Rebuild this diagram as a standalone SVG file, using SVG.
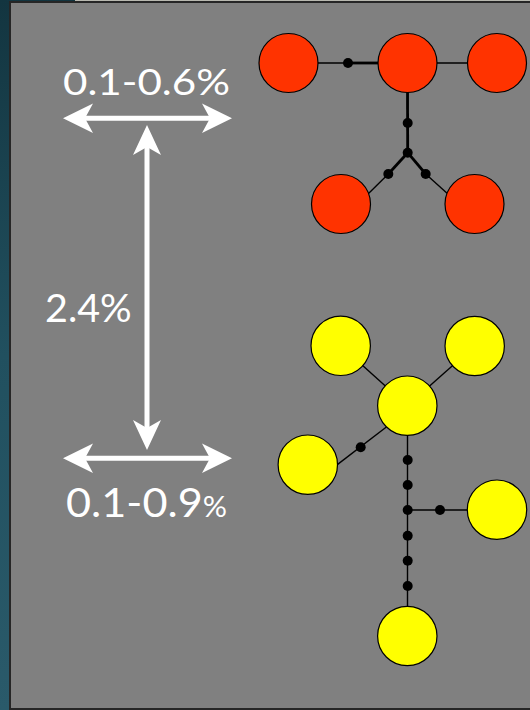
<svg xmlns="http://www.w3.org/2000/svg" width="530" height="710" viewBox="0 0 530 710">
  <defs>
    <linearGradient id="teal" x1="0" y1="0" x2="0" y2="1">
      <stop offset="0" stop-color="#133540"/>
      <stop offset="0.5" stop-color="#21505f"/>
      <stop offset="1" stop-color="#2a5a6a"/>
    </linearGradient>
  </defs>
  <style>
    .thin { stroke: #000; stroke-width: 1.4; fill: none; }
    .thick { stroke: #000; stroke-width: 2.8; fill: none; }
    .red { fill: #ff3300; stroke: #000; stroke-width: 1.2; }
    .yel { fill: #ffff00; stroke: #000; stroke-width: 1.2; }
    .dot { fill: #000; }
    .shaft { stroke: #fff; stroke-width: 5; fill: none; }
    .head { fill: #fff; }
    .lbl { font-family: Lato, "Open Sans", "Liberation Sans", sans-serif; fill: #fff; }
  </style>
  <rect x="0" y="0" width="530" height="710" fill="url(#teal)"/>
  <rect x="75" y="0" width="455" height="1.5" fill="#b8b8b0"/>
  <rect x="10" y="2" width="521" height="707" fill="#808080" stroke="#262626" stroke-width="2"/>

  <g id="connectors">
    <line class="thin" x1="288.5" y1="63" x2="348" y2="63"/>
    <line class="thick" x1="348" y1="63" x2="380" y2="63"/>
    <line class="thin" x1="407.5" y1="63" x2="497" y2="63"/>
    <line class="thick" x1="407.5" y1="90" x2="407.7" y2="152.7"/>
    <line class="thick" x1="407.7" y1="152.7" x2="388.3" y2="174"/>
    <line class="thick" x1="407.7" y1="152.7" x2="425.7" y2="174"/>
    <line class="thin" x1="388.3" y1="174" x2="366" y2="196"/>
    <line class="thin" x1="425.7" y1="174" x2="449" y2="195"/>

    <line class="thin" x1="340.7" y1="345.8" x2="407.3" y2="405.7"/>
    <line class="thin" x1="474.7" y1="346" x2="407.3" y2="405.7"/>
    <line class="thin" x1="336" y1="465.6" x2="388" y2="425.7"/>
    <line class="thin" x1="407.5" y1="430" x2="407.5" y2="610"/>
    <line class="thin" x1="407.5" y1="510" x2="470" y2="510"/>

    <circle class="dot" cx="348" cy="63" r="5"/>
    <circle class="dot" cx="407.7" cy="123" r="5"/>
    <circle class="dot" cx="407.7" cy="152.7" r="5"/>
    <circle class="dot" cx="388.3" cy="174" r="5"/>
    <circle class="dot" cx="425.7" cy="174" r="5"/>

    <circle class="dot" cx="360.7" cy="447.3" r="5"/>
    <circle class="dot" cx="407.7" cy="460" r="5"/>
    <circle class="dot" cx="407.7" cy="485" r="5"/>
    <circle class="dot" cx="407.7" cy="510" r="5"/>
    <circle class="dot" cx="407.7" cy="535.7" r="5"/>
    <circle class="dot" cx="407.7" cy="560.7" r="5"/>
    <circle class="dot" cx="407.7" cy="586" r="5"/>
    <circle class="dot" cx="440" cy="510" r="5"/>
  </g>

  <g id="red-left"><circle class="red" cx="288.5" cy="63" r="29.5"/></g>
  <g id="red-center"><circle class="red" cx="407.5" cy="63" r="29.5"/></g>
  <g id="red-right"><circle class="red" cx="497" cy="63" r="29.5"/></g>
  <g id="red-bottom-left"><circle class="red" cx="341" cy="204" r="29.5"/></g>
  <g id="red-bottom-right"><circle class="red" cx="474.5" cy="204" r="29.5"/></g>

  <g id="yel-top-left"><circle class="yel" cx="340.7" cy="345.8" r="29.7"/></g>
  <g id="yel-top-right"><circle class="yel" cx="474.7" cy="346" r="29.7"/></g>
  <g id="yel-center"><circle class="yel" cx="407.3" cy="405.7" r="29.7"/></g>
  <g id="yel-left"><circle class="yel" cx="307.8" cy="464.7" r="29.7"/></g>
  <g id="yel-right"><circle class="yel" cx="497" cy="509.7" r="29.7"/></g>
  <g id="yel-bottom"><circle class="yel" cx="407.3" cy="636" r="29.7"/></g>

  <g id="scale-arrows">
    <line class="shaft" x1="80" y1="118.3" x2="215" y2="118.3"/>
    <polygon class="head" points="63,118.3 93,103.5 85,118.3 93,133"/>
    <polygon class="head" points="232,118.3 202,103.5 210,118.3 202,133"/>

    <line class="shaft" x1="80" y1="458.3" x2="215" y2="458.3"/>
    <polygon class="head" points="63,458.3 93,443.5 85,458.3 93,473"/>
    <polygon class="head" points="232,458.3 202,443.5 210,458.3 202,473"/>

    <line class="shaft" x1="147" y1="142" x2="147" y2="433"/>
    <polygon class="head" points="147,125 133,155 147,147 161,155"/>
    <polygon class="head" points="147,450 133,420 147,428 161,420"/>
  </g>

  <g id="labels">
    <text class="lbl" x="63" y="95" font-size="37" textLength="167" lengthAdjust="spacingAndGlyphs">0.1-0.6%</text>
    <text class="lbl" x="45" y="321.7" font-size="39" textLength="86.7" lengthAdjust="spacingAndGlyphs">2.4%</text>
    <text class="lbl" x="66" y="517.3" font-size="40" textLength="161" lengthAdjust="spacingAndGlyphs">0.1-0.9<tspan font-size="28">%</tspan></text>
  </g>
</svg>
